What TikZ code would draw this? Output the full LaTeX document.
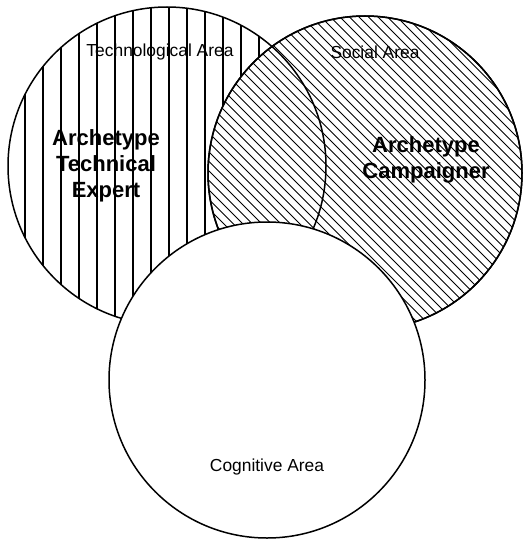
\documentclass[tikz,border=0pt]{standalone}
\usepackage{fontspec}
\setmainfont{Liberation Sans}
\usetikzlibrary{positioning}

\begin{document}
\begin{tikzpicture}[x=1pt, y=-1pt,
      area/.style={draw, line width=1.5pt, fill=white},
      rim/.style={draw, line width=1.5pt},
      arealabel/.style={font=\fontsize{17.4}{20}\selectfont},
      archetype/.style={font=\fontsize{22}{26}\selectfont\bfseries, align=center}]
      \useasboundingbox (0,0) rectangle (522,540);

      \coordinate (techCentre) at (167,166);
      \coordinate (socialCentre) at (365,173);
      \coordinate (cogCentre) at (267,380);

      % technological area, vertical hatching
      \fill[white] (techCentre) circle[radius=159];
      \begin{scope}
        \clip (techCentre) circle[radius=159];
        \foreach \x in {25,43,...,313} {
          \draw[line width=2pt] (\x,0) -- (\x,330);
        };
      \end{scope}

      % social area, diagonal hatching
      \draw[area] (socialCentre) circle[radius=157];
      \begin{scope}
        \clip (socialCentre) circle[radius=157];
        \foreach \a in {-38,-28.5,...,420} {
          \draw[line width=1pt] (\a,0) -- ++(340,340);
        };
      \end{scope}
      \draw[rim] (socialCentre) circle[radius=157];
      \draw[rim] (techCentre) circle[radius=159];

      % cognitive area on top
      \draw[area] (cogCentre) circle[radius=158];

      \node[arealabel] (techLabel) at (160,52) {Technological Area};
      \node[arealabel] (socialLabel) at (375,52) {Social Area};
      \node[arealabel] (cogLabel) at (267,467) {Cognitive Area};
      \node[archetype] (expert) at (106,166) {Archetype\\Technical\\Expert};
      \node[archetype] (campaigner) at (426,160) {Archetype\\Campaigner};
    \end{tikzpicture}
\end{document}
